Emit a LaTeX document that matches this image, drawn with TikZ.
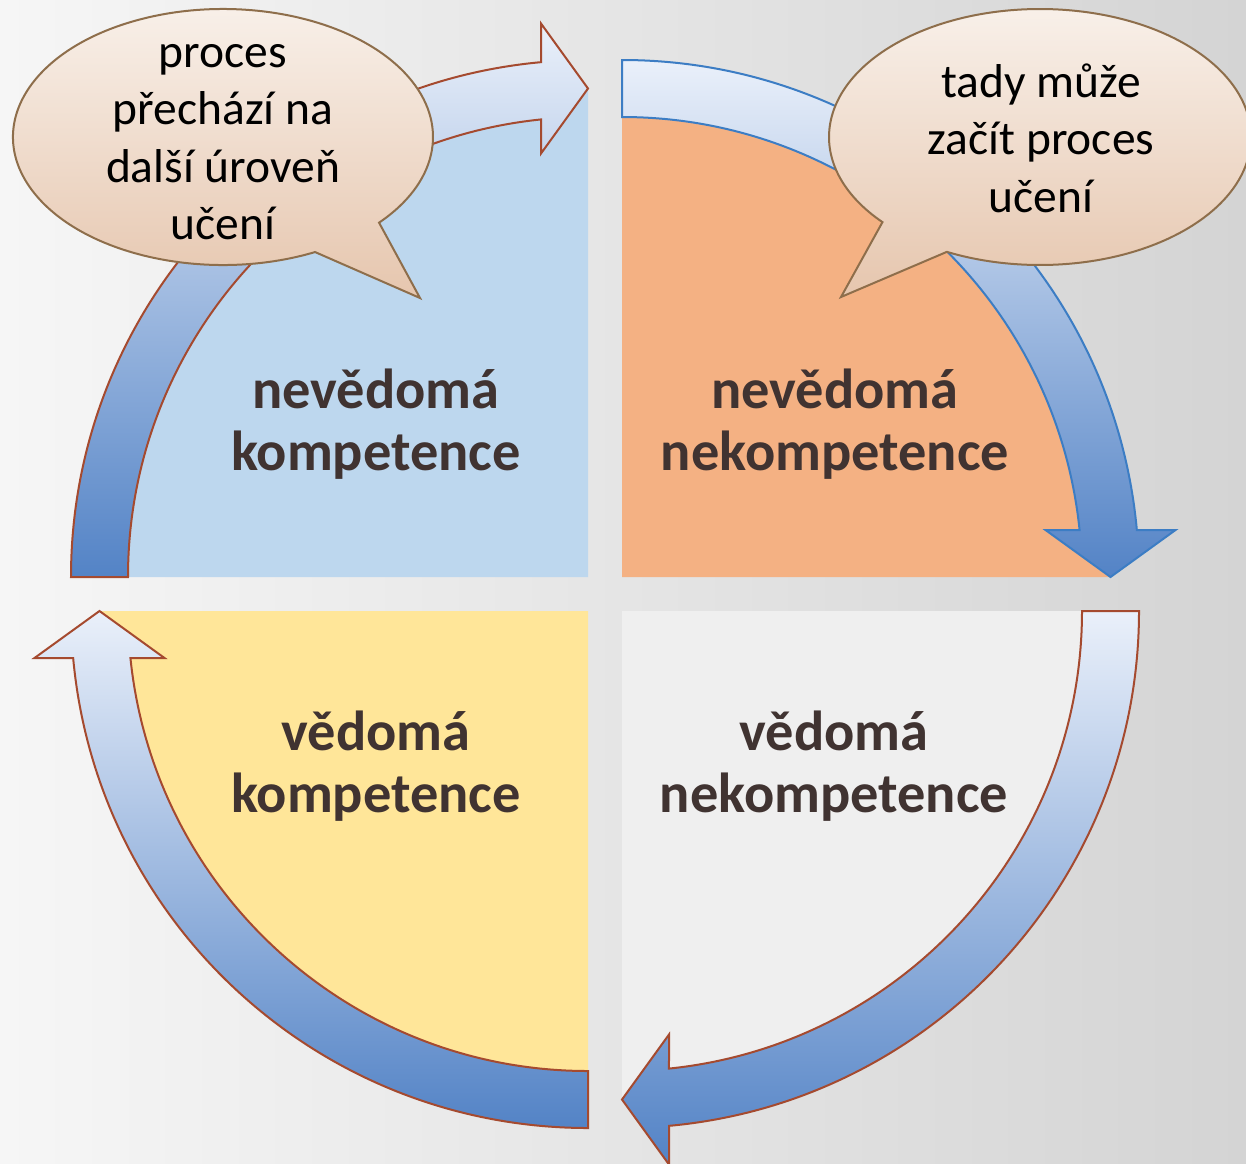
\documentclass[tikz,border=0pt]{standalone}
\usepackage{fontspec}
\setmainfont{Carlito}
\definecolor{bgL}{HTML}{F6F6F6}
\definecolor{bgM}{HTML}{F0F0F0}
\definecolor{bgR}{HTML}{D4D4D4}
\definecolor{qblue}{HTML}{BDD7EE}
\definecolor{qorange}{HTML}{F4B183}
\definecolor{qyellow}{HTML}{FFE699}
\definecolor{qgray}{HTML}{EFEFEF}
\definecolor{arrlight}{HTML}{EAF0FA}
\definecolor{arrdark}{HTML}{5383C6}
\definecolor{outbrown}{HTML}{A54A2F}
\definecolor{outblue}{HTML}{3C7DC4}
\definecolor{bubtop}{HTML}{F9F2EC}
\definecolor{bubbot}{HTML}{E6C6AE}
\definecolor{bubline}{HTML}{8E6E4B}
\definecolor{labelc}{HTML}{403331}
\tikzset{
  arrowshape/.style={top color=arrlight, bottom color=arrdark, line width=1pt, line join=miter},
  bubble/.style={top color=bubtop, bottom color=bubbot, draw=bubline, line width=1pt, line join=miter},
  qlabel/.style={font=\fontsize{28.2}{31}\selectfont\bfseries, text=labelc, align=center, inner sep=0pt},
  btext/.style={font=\fontsize{23.75}{28.75}\selectfont, text=black, align=center, inner sep=0pt}
}
% #1 cx, #2 cy, #3 start angle, #4 extra style
\newcommand\qarrow[4]{%
  \pgfmathsetmacro\qe{#3+90}%
  \pgfmathsetmacro\qo{\qe-5.216}%
  \pgfmathsetmacro\qi{\qe-5.864}%
  \path[arrowshape,#4] (#1,#2) ++(#3:517)
    arc[start angle=#3, end angle=\qo, radius=517]
    -- ({#1+553.5*cos(\qe)+47*cos(\qe-90)}, {#2+553.5*sin(\qe)+47*sin(\qe-90)})
    -- ({#1+488.5*cos(\qe)}, {#2+488.5*sin(\qe)})
    -- ({#1+423.5*cos(\qe)+47*cos(\qe-90)}, {#2+423.5*sin(\qe)+47*sin(\qe-90)})
    -- ({#1+460*cos(\qi)}, {#2+460*sin(\qi)})
    arc[start angle=\qi, end angle=#3, radius=460] -- cycle;}
\begin{document}
\begin{tikzpicture}[x=0.5pt,y=-0.5pt]
\useasboundingbox (0,0) rectangle (1246,1163);
\clip (0,0) rectangle (1246,1163);
% background
\shade[left color=bgL, middle color=bgM, right color=bgR] (0,0) rectangle (1246,1163);
% quadrants
\fill[qblue]   (588,577) -- +(180:487) arc[start angle=180, end angle=270, radius=487] -- cycle;
\fill[qorange] (622,577) -- +(270:487) arc[start angle=270, end angle=360, radius=487] -- cycle;
\fill[qgray]   (622,611) -- +(0:487) arc[start angle=0, end angle=90, radius=487] -- cycle;
\fill[qyellow] (588,611) -- +(90:487) arc[start angle=90, end angle=180, radius=487] -- cycle;
% arrows
\qarrow{588}{577}{180}{draw=outbrown}
\qarrow{622}{577}{270}{draw=outblue}
\qarrow{622}{611}{0}{draw=outbrown}
\qarrow{588}{611}{90}{draw=outbrown}
% labels
\node[qlabel] (tl) at (376,426.6) {\strut nevědomá\\kompetence\strut};
\node[qlabel] (tr) at (835,426.6) {\strut nevědomá\\nekompetence\strut};
\node[qlabel] (bl) at (376,768.6) {\strut vědomá\\kompetence\strut};
\node[qlabel] (br) at (834,768.6) {\strut vědomá\\nekompetence\strut};
% bubbles
\path[bubble] (223,137) ++(64:210 and 128)
  arc[start angle=64, end angle=402, x radius=210, y radius=128] -- (420,298) -- cycle;
\path[bubble] (1040,137) ++(138.3:211 and 128)
  arc[start angle=138.3, end angle=476.2, x radius=211, y radius=128] -- (841,297) -- cycle;
\node[btext] (bl1) at (223,141.8) {\strut proces\\přechází na\\další úroveň\\učení\strut};
\node[btext] (br1) at (1041,143) {\strut tady může\\začít proces\\učení\strut};
\end{tikzpicture}
\end{document}
